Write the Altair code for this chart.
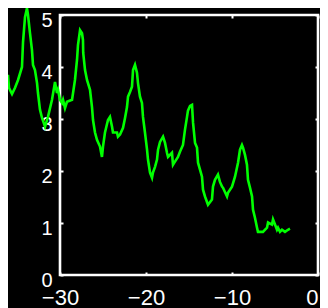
import altair as alt
import pandas as pd

# Time (x) and value (y)
xs = [-36.05, -35.93, -35.58, -35.23, -34.88, -34.42, -34.30, -34.07, -33.84, -33.72,
      -33.49, -33.26, -33.14, -32.91, -32.67, -32.56, -32.33, -32.09, -31.74, -31.40,
      -30.93, -30.58, -30.35, -30.23, -30.00, -29.77, -29.65, -29.42, -29.19, -28.60,
      -28.26, -28.02, -27.91, -27.67, -27.44, -27.33, -27.30, -27.09, -26.86, -26.51,
      -26.28, -26.16, -25.93, -25.70, -25.35, -25.12, -25.00, -24.77, -24.42, -24.19,
      -23.95, -23.84, -23.37, -23.26, -23.02, -22.67, -22.44, -22.21, -22.09, -21.86,
      -21.63, -21.51, -21.28, -21.05, -20.93, -20.70, -20.47, -20.35, -20.12, -19.88,
      -19.77, -19.53, -19.30, -19.19, -18.95, -18.72, -18.60, -18.37, -18.02, -17.79,
      -17.56, -17.44, -16.98, -16.86, -16.63, -16.28, -16.05, -15.70, -15.47, -15.23,
      -15.12, -14.88, -14.65, -14.53, -14.30, -14.07, -13.95, -13.49, -13.37, -13.14,
      -12.79, -12.33, -12.21, -11.98, -11.63, -11.40, -11.16, -11.05, -10.58, -10.47,
      -10.00, -9.65, -9.30, -9.07, -8.84, -8.72, -8.49, -8.26, -8.14, -7.91,
      -7.67, -7.56, -7.33, -7.09, -6.98, -6.40, -5.93, -5.81, -5.35, -5.23,
      -5.00, -4.77, -4.65, -4.42, -4.19, -3.84, -3.49, -3.26]
ys = [3.85, 3.60, 3.48, 3.60, 3.75, 4.00, 4.48, 4.96, 5.13, 5.00,
      4.65, 4.33, 4.04, 3.94, 3.69, 3.50, 3.18, 3.02, 2.85, 3.04,
      3.37, 3.71, 3.50, 3.56, 3.37, 3.31, 3.37, 3.21, 3.33, 3.37,
      3.75, 4.14, 4.42, 4.71, 4.65, 4.52, 4.27, 3.94, 3.75, 3.56,
      3.23, 2.98, 2.74, 2.60, 2.47, 2.27, 2.47, 2.74, 2.98, 3.04,
      2.85, 2.74, 2.74, 2.66, 2.70, 2.83, 3.02, 3.23, 3.43, 3.52,
      3.62, 3.94, 4.04, 3.89, 3.69, 3.43, 3.31, 3.04, 2.74, 2.41,
      2.22, 1.97, 1.87, 1.97, 2.08, 2.22, 2.41, 2.56, 2.66, 2.54,
      2.35, 2.27, 2.35, 2.12, 2.18, 2.27, 2.37, 2.50, 2.79, 3.04,
      3.16, 3.25, 3.27, 2.93, 2.54, 2.45, 2.16, 1.89, 1.64, 1.51,
      1.35, 1.45, 1.70, 1.83, 1.93, 1.79, 1.70, 1.68, 1.51, 1.58,
      1.70, 1.89, 2.16, 2.41, 2.50, 2.45, 2.31, 2.12, 1.83, 1.68,
      1.51, 1.26, 1.10, 0.91, 0.83, 0.83, 0.91, 1.01, 0.97, 1.07,
      0.97, 0.87, 0.91, 0.83, 0.87, 0.83, 0.87, 0.89]

x_ticks = [-30, -20, -10, 0]
y_ticks = [0, 1, 2, 3, 4, 5]

df = pd.DataFrame({"x": xs, "y": ys, "i": list(range(len(xs)))})

FONT = "Liberation Sans"
common = dict(domain=False, grid=False, ticks=True, tickColor="white", tickWidth=2,
              tickSize=3, offset=-3, labelColor="white", labelFont=FONT,
              title=None)

xscale = alt.Scale(domain=[-30, 0], nice=False, zero=False)
yscale = alt.Scale(domain=[0, 5], nice=False)

line = alt.Chart(df).mark_line(color="#00ff00", strokeWidth=2.6, clip=False).encode(
    x=alt.X("x:Q", scale=xscale,
            axis=alt.Axis(orient="bottom", values=x_ticks, labelPadding=12,
                          labelFontSize=22, labelFlush=False, labelOverlap=False,
                          labelAlign={"condition": {"test": "datum.value === 0", "value": "right"},
                                      "value": "center"},
                          **common)),
    y=alt.Y("y:Q", scale=yscale,
            axis=alt.Axis(orient="left", values=y_ticks, labelPadding=8, labelFontSize=20,
                          labelOffset=5, labelFlush=False, labelOverlap=False, **common)),
    order="i:Q",
)

ghost = alt.Chart(df).mark_line(opacity=0, clip=False).encode(
    x=alt.X("x:Q", scale=xscale,
            axis=alt.Axis(orient="top", values=x_ticks, labels=False, **common)),
    y=alt.Y("y:Q", scale=yscale,
            axis=alt.Axis(orient="right", values=y_ticks, labels=False, **common)),
    order="i:Q",
)

chart = alt.layer(ghost, line).resolve_scale(x="independent", y="independent").properties(
    width=258, height=260,
    padding={"left": 52, "top": 7, "right": 2, "bottom": 33},
    autosize=alt.AutoSizeParams(type="none"),
    background="black",
).configure_view(stroke="white", strokeWidth=2.6)

chart.save("out.html", embed_options={"renderer": "svg", "actions": False})
